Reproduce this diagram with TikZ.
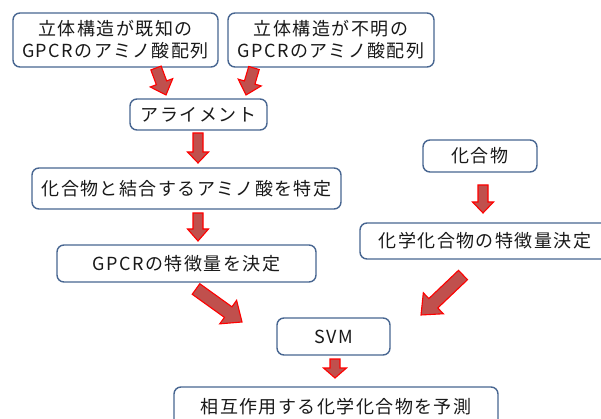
\documentclass[tikz,border=0pt]{standalone}
\usepackage{fontspec}
\setmainfont{Noto Sans CJK JP}[LetterSpace=8]
\usetikzlibrary{calc}
\definecolor{boxline}{RGB}{72,102,145}
\definecolor{arrfill}{RGB}{192,80,77}
\definecolor{arrline}{RGB}{255,0,0}
\definecolor{txt}{RGB}{25,25,25}
\tikzset{
  box/.style={draw=boxline, line width=1.4pt, rounded corners=7pt, fill=white,
    text=txt, align=center, inner sep=0pt,
    font=\fontsize{18}{22}\selectfont},
  barrow/.style={fill=arrfill, draw=arrline, line width=1.1pt, line join=miter},
}
\newcommand\blockarr[5]{%
  \path let \p1=(#1),\p2=(#2),\n1={atan2(\y2-\y1,\x2-\x1)},\n2={veclen(\x2-\x1,\y2-\y1)} in
    \pgfextra{\xdef\baAng{\n1}\xdef\baLen{\n2}};
  \begin{scope}[shift={(#1)},rotate=\baAng]
    \draw[barrow] (0pt,-#3/2*1pt) -- (\baLen-#5pt,-#3/2*1pt) -- (\baLen-#5pt,-#4/2*1pt)
      -- (\baLen+0pt,0pt) -- (\baLen-#5pt,#4/2*1pt) -- (\baLen-#5pt,#3/2*1pt)
      -- (0pt,#3/2*1pt) -- cycle;
  \end{scope}}
\begin{document}
\begin{tikzpicture}[x=1pt,y=-1pt]
\useasboundingbox (0,0) rectangle (601,419);
\clip (0,0) rectangle (601,419);
\fill[white] (0,0) rectangle (601,419);

\node[box, minimum width=205pt, minimum height=54pt] (b1) at (115.5,40)
  {立体構造が既知の\\GPCRのアミノ酸配列};
\node[box, minimum width=206pt, minimum height=54pt] (b2) at (331,40)
  {立体構造が不明の\\GPCRのアミノ酸配列};
\node[box, minimum width=137pt, minimum height=31pt] (align) at (198.5,114.5) {アライメント};
\node[box, minimum width=309pt, minimum height=41pt] (bind) at (186.5,188.5) {化合物と結合するアミノ酸を特定};
\node[box, minimum width=259pt, minimum height=37pt] (gfeat) at (186.5,263.5) {GPCRの特徴量を決定};
\node[box, minimum width=114pt, minimum height=32pt] (comp) at (480,156) {化合物};
\node[box, minimum width=250pt, minimum height=36pt] (cfeat) at (485,241) {化学化合物の特徴量決定};
\node[box, minimum width=113pt, minimum height=37pt] (svm) at (333.5,336.5) {SVM};
\node[box, minimum width=324pt, minimum height=40pt] (pred) at (336,407) {相互作用する化学化合物を予測};

\coordinate (a1s) at (156,68);  \coordinate (a1e) at (166,95);
\coordinate (a2s) at (254,68);  \coordinate (a2e) at (246,95);
\coordinate (a3s) at (198,133); \coordinate (a3e) at (198,163);
\coordinate (a4s) at (198,213); \coordinate (a4e) at (198,241);
\coordinate (a5s) at (483,185); \coordinate (a5e) at (483,213);
\coordinate (a6s) at (196,289); \coordinate (a6e) at (242,322);
\coordinate (a7s) at (463,275); \coordinate (a7e) at (421,315);
\coordinate (a8s) at (335,359); \coordinate (a8e) at (335,378);

\blockarr{a1s}{a1e}{11}{24}{13}
\blockarr{a2s}{a2e}{11}{24}{13}
\blockarr{a3s}{a3e}{10}{21}{11}
\blockarr{a4s}{a4e}{10}{21}{12}
\blockarr{a5s}{a5e}{10}{21}{11}
\blockarr{a6s}{a6e}{13}{29}{17}
\blockarr{a7s}{a7e}{13}{29}{17}
\blockarr{a8s}{a8e}{10}{23}{10}
\end{tikzpicture}
\end{document}
